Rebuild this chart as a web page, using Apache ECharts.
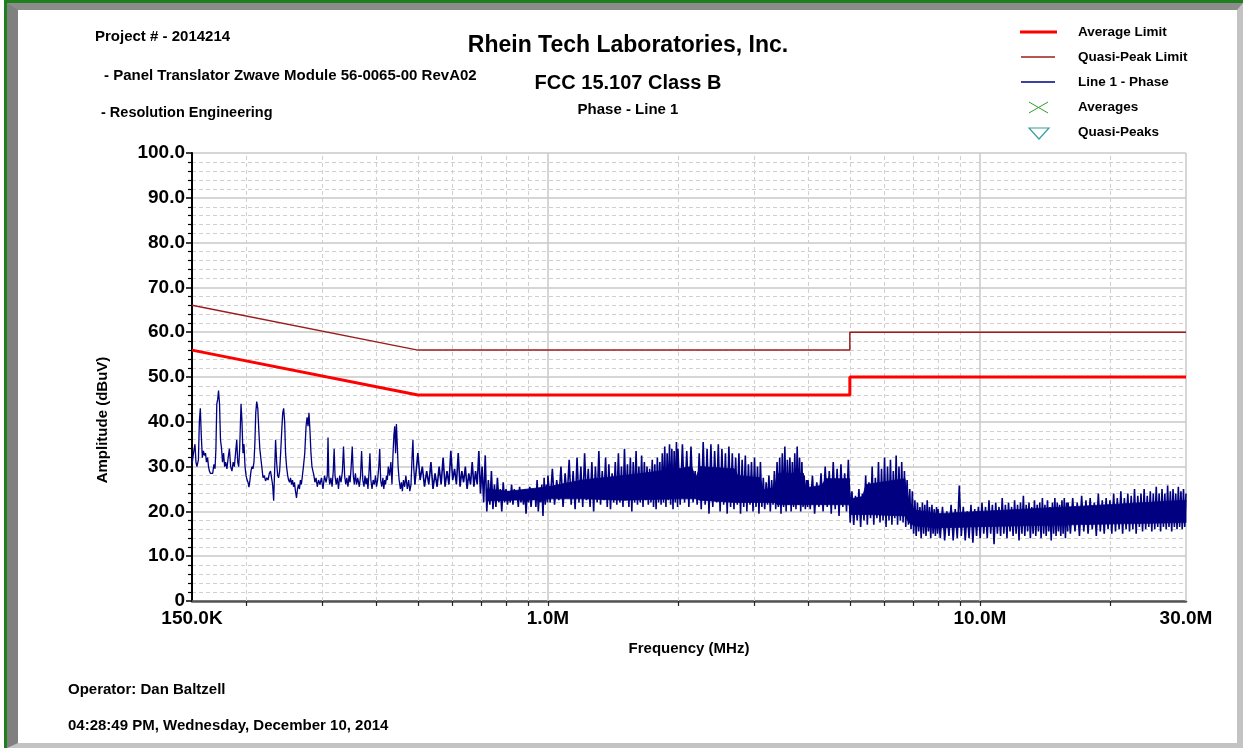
<!DOCTYPE html>
<html>
<head>
<meta charset="utf-8">
<script src="https://cdn.jsdelivr.net/npm/echarts@6/dist/echarts.min.js"></script>
<style>
html,body{margin:0;padding:0;background:#fff;}
#frame{position:absolute;left:4px;top:0;width:1239px;height:748px;box-sizing:border-box;border-top:3px solid #1f7f1f;border-left:3px solid #1f7f1f;}
#bevel{position:absolute;left:7px;top:3px;width:1236px;height:745px;box-sizing:border-box;border-left:11px solid #808080;border-top:7px solid #8c8c8c;border-right:6px solid #c3c3c3;border-bottom:5px solid #c3c3c3;background:#fff;}
#chart{position:absolute;left:0;top:0;width:1243px;height:748px;}
</style>
</head>
<body>
<div id="frame"></div>
<div id="bevel"></div>
<div id="chart"></div>
<script>
// ---------- data ----------
const xLabelValues = [0.15, 1, 10, 30];
const xTickValues = [0.2,0.3,0.4,0.5,0.6,0.7,0.8,0.9,1,2,3,4,5,6,7,8,9,10,20];
const xMajorGrid = [1, 10, 30];
const xMinorGrid = [0.2,0.3,0.4,0.5,0.6,0.7,0.8,0.9,2,3,4,5,6,7,8,9,20];

const avgLimit = [[0.15,56],[0.5,46],[5,46],[5,50],[30,50]];
const qpLimit  = [[0.15,66],[0.5,56],[5,56],[5,60],[30,60]];

// measured trace, Line 1 - Phase : [MHz, dBuV]
const traceA = [[0.1500,30.5],[0.1512,33],[0.1524,35],[0.1532,31],[0.1540,30],[0.1552,31.5],[0.1560,40],[0.1568,43],[0.1576,37],[0.1585,32],[0.1594,33.5],[0.1603,32.5],[0.1612,33],[0.1620,31],[0.1630,32],[0.1638,30],[0.1646,29],[0.1654,28.5],[0.1662,28.8],[0.1675,28.5],[0.1686,30.5],[0.1696,29.5],[0.1704,34],[0.1712,44],[0.1720,45],[0.1728,47],[0.1737,44],[0.1746,36],[0.1756,34],[0.1765,31],[0.1775,33],[0.1785,30],[0.1795,31],[0.1807,29.5],[0.1819,32],[0.1831,34],[0.1843,30],[0.1856,29],[0.1868,31],[0.1880,30],[0.1892,33],[0.1904,36],[0.1914,31],[0.1924,30],[0.1934,34],[0.1948,44],[0.1958,40],[0.1968,33],[0.1979,35],[0.1990,30],[0.2001,28],[0.2012,27],[0.2022,26.5],[0.2032,25.4],[0.2043,27],[0.2054,29],[0.2065,30],[0.2076,29.5],[0.2087,31],[0.2097,35],[0.2107,42],[0.2118,44.5],[0.2130,43],[0.2142,38],[0.2153,34],[0.2164,32],[0.2176,30],[0.2190,27.5],[0.2205,28],[0.2220,26.8],[0.2235,27.5],[0.2250,27],[0.2265,28.5],[0.2280,29],[0.2292,27.5],[0.2305,26],[0.2318,22.4],[0.2330,29],[0.2342,36],[0.2355,31],[0.2368,28],[0.2380,27.5],[0.2393,29],[0.2406,33],[0.2420,38],[0.2433,42],[0.2445,43],[0.2458,40],[0.2470,33],[0.2483,30],[0.2498,28],[0.2510,27],[0.2523,26.5],[0.2536,27.5],[0.2550,26],[0.2563,27],[0.2577,25.5],[0.2590,26.5],[0.2604,24.5],[0.2618,23],[0.2632,25],[0.2646,26],[0.2660,25],[0.2673,27],[0.2687,26],[0.2702,28],[0.2717,30],[0.2736,33],[0.2755,39],[0.2770,41],[0.2784,39],[0.2798,42],[0.2813,38],[0.2828,33],[0.2843,30],[0.2858,29],[0.2873,28],[0.2888,26.5],[0.2906,27.5],[0.2925,25.5],[0.2945,27],[0.2967,26],[0.2990,27.5],[0.3015,25],[0.3040,28],[0.3065,26.5],[0.3085,28],[0.3097,36.5],[0.3110,28],[0.3125,26],[0.3145,27.5],[0.3165,25.5],[0.3185,29],[0.3200,34],[0.3215,28],[0.3235,26],[0.3255,27.5],[0.3275,25],[0.3296,28],[0.3320,26.5],[0.3344,29],[0.3364,34.5],[0.3384,28],[0.3404,26],[0.3424,27.5],[0.3444,25.5],[0.3465,28],[0.3484,26.5],[0.3504,30],[0.3524,34.5],[0.3544,28],[0.3564,26],[0.3584,28.5],[0.3606,26],[0.3628,27.5],[0.3660,25.5],[0.3684,28],[0.3704,33.5],[0.3728,27],[0.3752,25.5],[0.3772,28],[0.3792,26],[0.3812,27.5],[0.3832,25],[0.3852,28.5],[0.3872,33],[0.3892,27],[0.3916,25],[0.3940,27],[0.3965,26],[0.3990,28],[0.4010,25.5],[0.4035,27],[0.4060,30],[0.4080,34],[0.4100,27],[0.4125,25.5],[0.4150,27.5],[0.4170,25],[0.4190,27],[0.4209,26],[0.4230,28],[0.4250,27],[0.4270,30],[0.4300,28],[0.4330,31],[0.4355,26],[0.4380,33],[0.4400,37],[0.4420,39],[0.4440,33],[0.4460,39.5],[0.4480,35],[0.4500,30],[0.4525,27],[0.4555,25],[0.4580,26.5],[0.4604,24.5],[0.4630,27],[0.4660,25.5],[0.4690,28],[0.4726,25],[0.4760,27],[0.4790,24.5],[0.4820,26],[0.4852,33],[0.4870,36],[0.4890,30],[0.4920,26]];

const traceB = [[0.500,33],[0.506,27],[0.512,30],[0.518,25.5],[0.524,29],[0.530,26],[0.536,31],[0.542,25],[0.548,28.5],[0.554,25.5],[0.560,30],[0.566,26],[0.572,32],[0.578,25.5],[0.584,29],[0.590,26],[0.596,33.5],[0.602,27],[0.608,29.5],[0.614,26],[0.620,33],[0.626,25.5],[0.632,29],[0.638,26.5],[0.644,30],[0.650,25],[0.656,28.5],[0.662,26],[0.668,31],[0.674,25.5],[0.680,29],[0.686,26],[0.692,33.5],[0.698,24],[0.704,30],[0.710,22],[0.716,32.5],[0.722,20],[0.728,27],[0.734,21.5],[0.740,29],[0.746,20.5],[0.752,26],[0.758,21],[0.764,27.5],[0.770,22],[0.776,25],[0.782,20],[0.788,26.5],[0.794,22],[0.800,25],[0.806,21.5],[0.812,24.5],[0.818,22],[0.824,26],[0.830,21.5],[0.836,25],[0.842,22.5],[0.848,24.5],[0.854,21],[0.860,25.5],[0.866,22],[0.872,24],[0.878,21.5],[0.884,25],[0.890,19.5],[0.896,24.5],[0.902,22],[0.908,25.5],[0.914,21],[0.920,24],[0.926,22.5],[0.932,25],[0.938,21],[0.944,27],[0.950,20],[0.956,24.5],[0.962,22],[0.968,26],[0.974,19],[0.980,27.5],[0.986,21.5],[0.992,26],[0.998,22]];

const traceC = [[1.000,28],[1.012,22],[1.024,29.5],[1.036,21.5],[1.048,27],[1.060,22.5],[1.072,30],[1.084,21],[1.096,28.5],[1.108,23],[1.120,31.5],[1.132,21.5],[1.144,29],[1.156,20.5],[1.168,32],[1.180,22],[1.192,30],[1.204,21],[1.216,33],[1.228,22.5],[1.240,29.5],[1.252,21],[1.264,31],[1.276,20],[1.288,30],[1.300,22],[1.312,33.5],[1.324,21.5],[1.336,29],[1.348,22.5],[1.360,32],[1.372,21],[1.384,30.5],[1.396,20.5],[1.408,28.5],[1.420,22],[1.432,31],[1.444,21.5],[1.456,33],[1.468,22],[1.480,30],[1.492,21],[1.504,34],[1.516,22.5],[1.528,30.5],[1.540,21],[1.552,32],[1.564,20],[1.576,31],[1.588,22],[1.600,33.5],[1.612,21.5],[1.624,30],[1.636,22],[1.648,32.5],[1.660,21],[1.672,31],[1.684,22.5],[1.696,30],[1.708,21.5],[1.720,29.5],[1.732,22],[1.744,31.5],[1.756,21],[1.768,30.5],[1.780,20.5],[1.792,32],[1.804,22],[1.816,31],[1.828,21.5],[1.840,33],[1.852,22],[1.864,34.5],[1.876,21],[1.888,33],[1.900,22.5],[1.912,35],[1.924,21.5],[1.936,34],[1.948,20.5],[1.960,33.5],[1.972,22],[1.984,35.5],[1.996,21]];

const traceD = [[2.000,34],[2.024,21.5],[2.048,35],[2.072,22],[2.096,33.5],[2.120,21],[2.144,34.5],[2.168,22],[2.192,29],[2.216,21.5],[2.240,33],[2.264,20.5],[2.288,35.5],[2.312,21.5],[2.336,34],[2.360,19.5],[2.384,35],[2.408,21],[2.432,33.5],[2.456,22],[2.480,35],[2.504,20],[2.528,34],[2.552,21.5],[2.576,33],[2.600,19.5],[2.624,34.5],[2.648,21],[2.672,33],[2.696,20.5],[2.720,32],[2.744,21.5],[2.768,33],[2.792,19.5],[2.816,31.5],[2.840,21],[2.864,32.5],[2.888,20],[2.912,30.5],[2.936,21.5],[2.960,31],[2.984,20],[3.008,32],[3.032,21],[3.056,30],[3.080,19.5],[3.104,31],[3.128,21],[3.152,27.5],[3.176,20.5],[3.200,26.5],[3.224,21.5],[3.248,28],[3.272,20],[3.296,27],[3.320,21.5],[3.344,29],[3.368,20.5],[3.392,31],[3.416,21],[3.440,32],[3.464,19.5],[3.488,33],[3.512,21],[3.536,34.5],[3.560,20],[3.584,31.5],[3.608,21.5],[3.632,32],[3.656,20],[3.680,31],[3.704,21],[3.728,33],[3.752,20.5],[3.776,34.5],[3.800,21.5],[3.824,32],[3.848,20],[3.872,31],[3.896,21],[3.920,28],[3.944,20.5],[3.968,27],[3.992,21]];

const traceE = [[4.000,27],[4.048,20.5],[4.096,28],[4.144,19.5],[4.192,26.5],[4.240,21],[4.288,28.5],[4.336,20],[4.384,30],[4.432,21],[4.480,29],[4.528,19.5],[4.576,31],[4.624,20.5],[4.672,29.5],[4.720,19],[4.768,30.5],[4.816,21],[4.864,28.5],[4.912,20],[4.960,31.5],[5.008,17.5],[5.056,24.5],[5.104,17],[5.152,23.5],[5.200,18],[5.248,25],[5.296,16.5],[5.344,24],[5.392,18],[5.440,28],[5.488,17],[5.536,26.5],[5.584,18.5],[5.632,30],[5.680,17],[5.728,27.5],[5.776,18.5],[5.824,31],[5.872,17.5],[5.920,29.5],[5.968,18],[6.016,32],[6.064,16.5],[6.112,30],[6.160,18],[6.208,31.5],[6.256,17],[6.304,29],[6.352,18.5],[6.400,32.5],[6.448,17],[6.496,30],[6.544,18],[6.592,31],[6.640,17.5],[6.688,29],[6.736,16.5],[6.784,27],[6.832,17],[6.880,25],[6.928,16],[6.976,24.5],[7.024,15],[7.072,22.5],[7.120,14.5],[7.168,22],[7.216,15.5],[7.264,21],[7.312,14],[7.360,22],[7.408,15],[7.456,21.5],[7.504,14.5],[7.552,22.5],[7.600,15.5],[7.648,21],[7.696,14],[7.744,21.5],[7.792,15],[7.840,20.5],[7.888,14.5],[7.936,21],[7.984,15]];

const traceF = [[8.000,20.5],[8.096,14],[8.192,21],[8.288,13.5],[8.384,20],[8.480,14.5],[8.576,21.5],[8.672,13.5],[8.768,20.5],[8.864,14],[8.960,25.8],[9.056,14.5],[9.152,21],[9.248,13.5],[9.344,20],[9.440,14],[9.536,21.5],[9.632,13],[9.728,20.5],[9.824,14.5],[9.920,21],[10.016,14],[10.112,22],[10.208,15],[10.304,21],[10.400,14],[10.496,22.5],[10.592,15],[10.688,21.5],[10.784,12.7],[10.880,22],[10.976,15],[11.072,21],[11.168,14.5],[11.264,23],[11.360,15],[11.456,21.5],[11.552,14],[11.648,22],[11.744,15.5],[11.840,21],[11.936,14.5],[12.032,22.5],[12.128,15],[12.224,21.5],[12.320,13.5],[12.416,22],[12.512,15],[12.608,23.5],[12.704,14.5],[12.800,21.5],[12.896,15.5],[12.992,22],[13.088,14],[13.184,21],[13.280,15],[13.376,22.5],[13.472,14.5],[13.568,21.5],[13.664,15.5],[13.760,22],[13.856,14],[13.952,23],[14.048,15],[14.144,21.5],[14.240,14.5],[14.336,22.5],[14.432,15.5],[14.528,21],[14.624,13.5],[14.720,22],[14.816,15],[14.912,23],[15.008,14.5],[15.104,22],[15.200,15.5],[15.296,21.5],[15.392,14.5],[15.488,22.5],[15.584,15],[15.680,23],[15.776,14],[15.872,22],[15.968,15.5]];

const traceG = [[16.0,22],[16.2,15],[16.4,23],[16.6,15.5],[16.8,22],[17.0,14.5],[17.2,23.5],[17.4,15.5],[17.6,22.5],[17.8,15],[18.0,23],[18.2,16],[18.4,22],[18.6,14.5],[18.8,24],[19.0,15.5],[19.2,22.5],[19.4,15],[19.6,23],[19.8,16],[20.0,22.5],[20.2,15],[20.4,24],[20.6,15.5],[20.8,23],[21.0,16],[21.2,24.5],[21.4,15],[21.6,23],[21.8,16],[22.0,24],[22.2,15.5],[22.4,23.5],[22.6,16],[22.8,25],[23.0,15],[23.2,23.5],[23.4,16.5],[23.6,24],[23.8,15.5],[24.0,25],[24.2,16],[24.4,23.5],[24.6,16.5],[24.8,24.5],[25.0,15.5],[25.2,24],[25.4,16],[25.6,25.5],[25.8,16.5],[26.0,24],[26.2,15.5],[26.4,25],[26.6,16.5],[26.8,24],[27.0,16],[27.2,25.8],[27.4,16.5],[27.6,24.5],[27.8,15.5],[28.0,25],[28.2,16.5],[28.4,24],[28.6,16],[28.8,25.5],[29.0,16.5],[29.2,24.5],[29.4,16],[29.6,25],[29.8,16.5],[30.0,24]];

// solid core of the dense noise band: [MHz, low dBuV, high dBuV]
const traceCore = [[0.72,22.3,25],[0.81,22.5,24.5],[1.0,22.8,25.5],[1.2,22.8,27],[1.5,22.5,28],[2.0,22.8,29.5],[2.15,22.8,30],[2.2,22.8,27.5],[2.25,22.5,30],[2.7,22,29.5],[2.75,22,28],[3.1,22,27.5],[3.15,22,24.8],[3.35,22,25.3],[3.4,21.5,28.5],[3.9,21.5,28.5],[3.95,21.5,25.3],[4.3,21.5,25.8],[4.4,21.5,27.3],[4.98,21.5,27.3],[5.02,19.3,22.8],[5.35,19.3,23.3],[5.45,19.3,26],[6.7,19,27.3],[6.85,17.5,22.3],[7.05,16.8,20.3],[8,16.3,19.5],[10,16.6,20],[16,17,21],[30,17.5,22.5]];

const legendItems = ['Average Limit','Quasi-Peak Limit','Line 1 - Phase','Averages','Quasi-Peaks'];
const headerLines = ['Project # - 2014214','- Panel Translator Zwave Module 56-0065-00 RevA02','- Resolution Engineering'];
const titleLines = ['Rhein Tech Laboratories, Inc.','FCC 15.107 Class B','Phase - Line 1'];
const footerLines = ['Operator: Dan Baltzell','04:28:49 PM, Wednesday, December 10, 2014'];
const xName = 'Frequency (MHz)';
const yName = 'Amplitude (dBuV)';

// ---------- chart ----------
const FONT = '"Liberation Sans", Arial, sans-serif';
const NAVY = '#000080';
const traceSparse = traceA;
const traceDense = [].concat([traceA[traceA.length - 1]], traceB, traceC, traceD, traceE, traceF, traceG);
const chart = echarts.init(document.getElementById('chart'), null, {renderer: 'canvas'});

function fmtFreq(v) {
  if (v < 0.999) return (v * 1000).toFixed(1) + 'K';
  return v.toFixed(1) + 'M';
}
function txt(text, x, y, size, align, extra) {
  return Object.assign({
    type: 'text', z: 100,
    style: {text: text, x: x, y: y, font: 'bold ' + size + 'px ' + FONT, fill: '#000', align: align || 'left', verticalAlign: 'middle'}
  }, extra || {});
}

const legendRows = [32, 57, 82, 107, 132];
const graphics = [
  txt(headerLines[0], 95, 37, 15),
  txt(headerLines[1], 104, 76, 15),
  txt(headerLines[2], 101, 113, 14.5),
  txt(titleLines[0], 628, 46, 23, 'center'),
  txt(titleLines[1], 628, 83, 20, 'center'),
  txt(titleLines[2], 628, 110, 15, 'center'),
  txt(footerLines[0], 68, 690, 15),
  txt(footerLines[1], 68, 726, 15),
  {type: 'text', z: 100, x: 103, y: 420, rotation: Math.PI / 2,
   style: {text: yName, x: 0, y: 0, font: 'bold 15px ' + FONT, fill: '#000', align: 'center', verticalAlign: 'middle'}},
  {type: 'line', z: 100, shape: {x1: 1020, y1: legendRows[0], x2: 1057, y2: legendRows[0]}, style: {stroke: '#ff0000', lineWidth: 3}},
  {type: 'line', z: 100, shape: {x1: 1021, y1: legendRows[1], x2: 1055, y2: legendRows[1]}, style: {stroke: '#9c1c1c', lineWidth: 1.5}},
  {type: 'line', z: 100, shape: {x1: 1021, y1: legendRows[2], x2: 1055, y2: legendRows[2]}, style: {stroke: NAVY, lineWidth: 1.5}},
  {type: 'line', z: 100, shape: {x1: 1029, y1: legendRows[3] - 5, x2: 1048, y2: legendRows[3] + 6}, style: {stroke: '#2e9e2e', lineWidth: 1}},
  {type: 'line', z: 100, shape: {x1: 1029, y1: legendRows[3] + 6, x2: 1048, y2: legendRows[3] - 5}, style: {stroke: '#2e9e2e', lineWidth: 1}},
  {type: 'polygon', z: 100, shape: {points: [[1029, legendRows[4] - 4], [1049, legendRows[4] - 4], [1039, legendRows[4] + 7]]}, style: {stroke: '#3a9e9e', fill: 'none', lineWidth: 1.2}}
];
legendItems.forEach(function (name, i) {
  graphics.push(txt(name, 1078, legendRows[i], 13.5));
});

const option = {
  animation: false,
  backgroundColor: 'transparent',
  textStyle: {fontFamily: FONT},
  grid: {left: 192, right: 57, top: 153, bottom: 147, containLabel: false, outerBoundsMode: 'none'},
  xAxis: {
    type: 'log', logBase: 10, min: 0.15, max: 30,
    name: xName, nameLocation: 'middle', nameGap: 40,
    nameTextStyle: {fontSize: 15, fontWeight: 'bold', color: '#000', fontFamily: FONT},
    axisLine: {show: true, onZero: false, lineStyle: {color: '#555', width: 2.5}},
    axisTick: {show: true, customValues: xTickValues, length: 5, lineStyle: {color: '#222', width: 1.2}},
    axisLabel: {show: true, customValues: xLabelValues, showMinLabel: true, showMaxLabel: true, formatter: fmtFreq, margin: 8,
      fontSize: 19, fontWeight: 'bold', color: '#000', fontFamily: FONT},
    splitLine: {show: false},
    minorTick: {show: false},
    minorSplitLine: {show: false}
  },
  yAxis: {
    type: 'value', min: 0, max: 100, interval: 10,
    axisLine: {show: true, lineStyle: {color: '#000', width: 2}},
    axisTick: {show: true, length: 6, lineStyle: {color: '#000', width: 1.5}},
    minorTick: {show: true, splitNumber: 5, length: 4, lineStyle: {color: '#000', width: 1.2}},
    axisLabel: {formatter: function (v) { return v === 0 ? '0' : v.toFixed(1); }, margin: 7,
      fontSize: 19, fontWeight: 'bold', color: '#000', fontFamily: FONT},
    splitLine: {show: true, lineStyle: {color: '#c8c8c8', width: 1.5}},
    minorSplitLine: {show: true, lineStyle: {color: '#d0d0d0', width: 1, type: [4, 3]}}
  },
  series: [
    {
      name: 'gridMinor', type: 'line', data: [], z: 1, silent: true,
      markLine: {z: 1, silent: true, animation: false, symbol: ['none', 'none'], label: {show: false},
        emphasis: {disabled: true},
        lineStyle: {color: '#d0d0d0', width: 1, type: [4, 3]},
        data: xMinorGrid.map(function (v) { return {xAxis: v}; })}
    },
    {
      name: 'gridMajor', type: 'line', data: [], z: 1, silent: true,
      markLine: {z: 1, silent: true, animation: false, symbol: ['none', 'none'], label: {show: false},
        emphasis: {disabled: true},
        lineStyle: {color: '#c8c8c8', width: 1.5, type: 'solid'},
        data: xMajorGrid.map(function (v) { return {xAxis: v}; })}
    },
    {
      name: 'traceCore', type: 'custom', data: traceCore, z: 2, silent: true,
      encode: {x: 0, y: [1, 2]},
      renderItem: function (params, api) {
        var i = params.dataIndex;
        if (i >= traceCore.length - 1) return null;
        var a = traceCore[i], b = traceCore[i + 1];
        var pts = [api.coord([a[0], a[2]]), api.coord([b[0], b[2]]), api.coord([b[0], b[1]]), api.coord([a[0], a[1]])];
        return {type: 'polygon', shape: {points: pts}, style: {fill: NAVY, stroke: NAVY, lineWidth: 0.8}};
      }
    },
    {
      name: legendItems[2], type: 'line', data: traceSparse, z: 2, showSymbol: false, symbol: 'none',
      lineStyle: {color: NAVY, width: 1.3}, silent: true
    },
    {
      name: legendItems[2], type: 'line', data: traceDense, z: 2, showSymbol: false, symbol: 'none',
      lineStyle: {color: NAVY, width: 1.6}, silent: true
    },
    {
      name: legendItems[1], type: 'line', data: qpLimit, z: 3, showSymbol: false, symbol: 'none',
      lineStyle: {color: '#9c1c1c', width: 1.5}, silent: true
    },
    {
      name: legendItems[0], type: 'line', data: avgLimit, z: 3, showSymbol: false, symbol: 'none',
      lineStyle: {color: '#ff0000', width: 3}, silent: true
    }
  ],
  graphic: graphics
};
chart.setOption(option);
</script>
</body>
</html>
